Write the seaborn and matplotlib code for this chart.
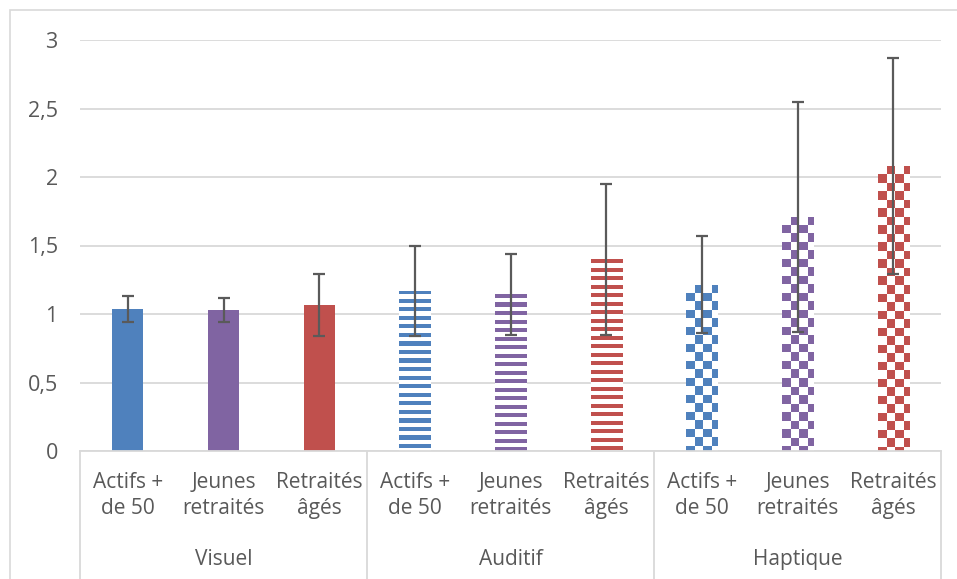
import matplotlib
matplotlib.use("Agg")
import matplotlib.pyplot as plt
import matplotlib.transforms as mtransforms
from matplotlib.colors import ListedColormap
from matplotlib.patches import Rectangle
import numpy as np
import pandas as pd
import seaborn as sns

# data
groups = ["Visuel", "Auditif", "Haptique"]
ages = ["Actifs +\nde 50", "Jeunes\nretraités", "Retraités\nâgés"]
visuel_mean = [1.035, 1.03, 1.066]
visuel_err = [0.095, 0.09, 0.226]
auditif_mean = [1.168, 1.145, 1.40]
auditif_err = [0.33, 0.295, 0.55]
haptique_mean = [1.215, 1.71, 2.08]
haptique_err = [0.355, 0.84, 0.785]

y_ticks = [0, 0.5, 1, 1.5, 2, 2.5, 3]
y_tick_labels = ["0", "0,5", "1", "1,5", "2", "2,5", "3"]

colors = ["#4F81BD", "#8064A2", "#C0504D"]
patterns = ["solid", "stripes", "checker"]
txt = "#595959"
grid_c = "#D9D9D9"

rows = []
for g, means, errs in [("Visuel", visuel_mean, visuel_err),
                       ("Auditif", auditif_mean, auditif_err),
                       ("Haptique", haptique_mean, haptique_err)]:
    for a, m, e in zip(ages, means, errs):
        rows.append({"group": g, "age": a, "key": g + "|" + a, "value": m, "err": e})
df = pd.DataFrame(rows)

sns.set_style("white")
plt.rcParams["font.family"] = ["Open Sans", "DejaVu Sans"]

W, H = 957, 579
fig = plt.figure(figsize=(W / 100, H / 100), dpi=100)
ax = fig.add_axes([80 / W, (H - 451) / H, 861 / W, 411 / H])

sns.barplot(data=df, x="key", y="value", hue="age", hue_order=ages,
            palette=colors, dodge=False, width=0.325, errorbar=None,
            saturation=1, legend=False, ax=ax, zorder=2)

ax.set_xlim(-0.5, len(df) - 0.5)
ax.set_ylim(0, 3)

# pixel scale for the fill patterns
px_x = 1.0 / (ax.transData.transform((1, 0))[0] - ax.transData.transform((0, 0))[0])
px_y = 1.0 / (ax.transData.transform((0, 1))[1] - ax.transData.transform((0, 0))[1])
cell = 8.5

for p in list(ax.patches):
    x0 = p.get_x()
    w = p.get_width()
    h = p.get_height()
    idx = int(round(x0 + w / 2))
    gi = groups.index(df.loc[idx, "group"])
    ci = ages.index(df.loc[idx, "age"])
    col = colors[ci]
    p.set_linewidth(0)
    if patterns[gi] == "solid":
        continue
    p.set_facecolor("white")
    if patterns[gi] == "stripes":
        ny = int(np.ceil(h / (px_y * cell / 2))) + 1
        arr = np.zeros((ny, 1))
        arr[0::2, 0] = 1
        ext = [x0, x0 + w, h - ny * px_y * cell / 2, h]
    else:
        ny = int(np.ceil(h / (px_y * cell))) + 1
        nx = int(np.ceil(w / (px_x * cell))) + 1
        arr = (np.add.outer(np.arange(ny), np.arange(nx)) % 2).astype(float)
        ext = [x0, x0 + nx * px_x * cell, h - ny * px_y * cell, h]
    im = ax.imshow(arr, extent=ext, aspect="auto", interpolation="nearest",
                   cmap=ListedColormap(["white", col]), vmin=0, vmax=1,
                   origin="upper", zorder=2.1)
    im.set_clip_path(p)

ax.set_xlim(-0.5, len(df) - 0.5)
ax.set_ylim(0, 3)

ax.errorbar(np.arange(len(df)), df["value"], yerr=df["err"], fmt="none",
            ecolor="#5A5A5A", elinewidth=1.6, capsize=4.3, capthick=1.6, zorder=3)

# axes styling
ax.set_yticks(y_ticks)
ax.set_yticklabels(y_tick_labels)
ax.yaxis.grid(True, color=grid_c, linewidth=1.3, zorder=0)
ax.set_axisbelow(True)
for s in ["top", "right", "left"]:
    ax.spines[s].set_visible(False)
ax.spines["bottom"].set_color(grid_c)
ax.spines["bottom"].set_linewidth(1.3)
ax.tick_params(axis="y", length=0, pad=16, labelsize=15.5, labelcolor=txt)
ax.tick_params(axis="x", length=0, pad=15, labelsize=15, labelcolor=txt)
ax.set_xticks(np.arange(len(df)))
ax.set_xticklabels(df["age"], linespacing=1.33)
ax.set_xlabel("")
ax.set_ylabel("")

# multi-level category axis
trans = mtransforms.blended_transform_factory(ax.transData, ax.transAxes)
for b in np.arange(-0.5, len(df), len(ages)):
    ax.plot([b, b], [0, -0.32], transform=trans, color=grid_c, lw=1.3, clip_on=False)
for i, g in enumerate(groups):
    ax.text(i * len(ages) + 1, -0.265, g, transform=trans, ha="center", va="center",
            fontsize=15, color=txt)

# chart border
fig.patches.append(Rectangle((10 / W, -0.05), 1.0, (H - 10) / H + 0.05,
                             transform=fig.transFigure, fill=False,
                             edgecolor=grid_c, linewidth=1.2))

fig.savefig("out.png", dpi=100)
